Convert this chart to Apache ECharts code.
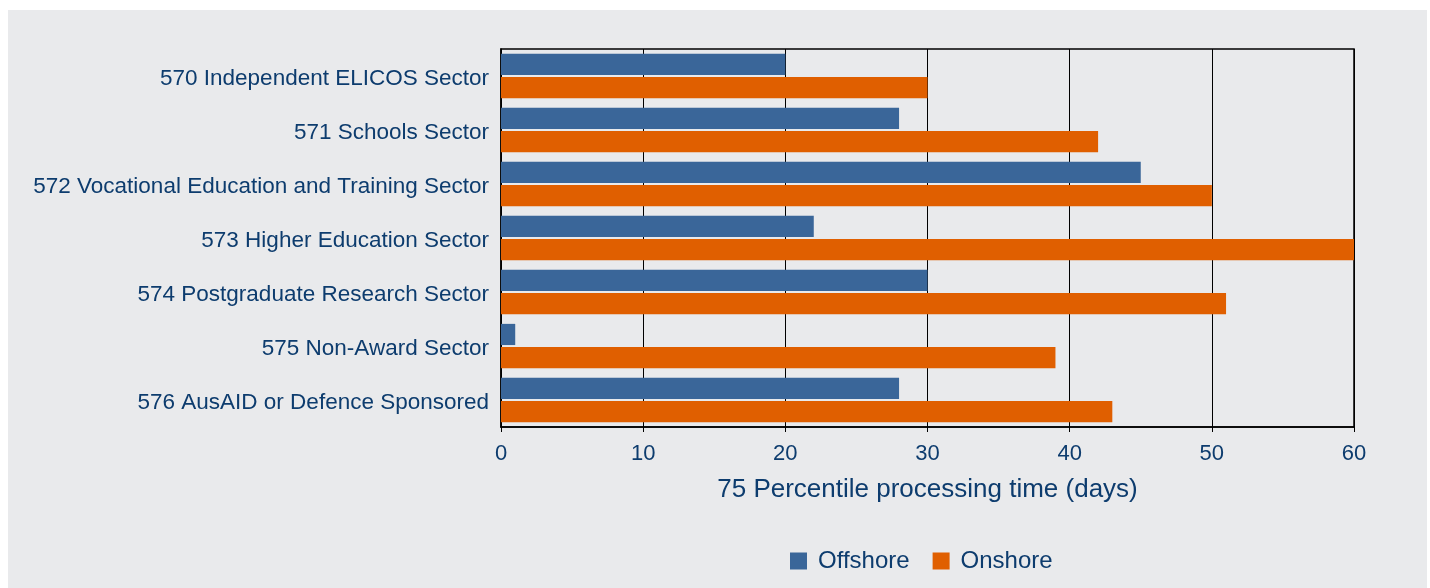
<!DOCTYPE html>
<html><head><meta charset="utf-8">
<script src="https://cdn.jsdelivr.net/npm/echarts@6/dist/echarts.min.js"></script>
<style>html,body{margin:0;padding:0;background:#fff;}#c{position:absolute;left:8px;top:10px;width:1419px;height:578px;background:#e9eaec;}</style>
</head><body><div id="c"></div>
<script>
const categories = ["570 Independent ELICOS Sector","571 Schools Sector","572 Vocational Education and Training Sector","573 Higher Education Sector","574 Postgraduate Research Sector","575 Non-Award Sector","576 AusAID or Defence Sponsored"];
const offshore = [20, 28, 45, 22, 30, 1, 28];
const onshore = [30, 42, 50, 60, 51, 39, 43];
const xTicks = {min: 0, max: 60, interval: 10};
const txt = '#0d3c6e';
const chart = echarts.init(document.getElementById('c'), null, {renderer: 'canvas'});
chart.setOption({
  backgroundColor: '#e9eaec',
  animation: false,
  textStyle: {fontFamily: 'Liberation Sans, Arial, sans-serif'},
  grid: {left: 493, right: 73, top: 39, bottom: 161, containLabel: false, show: true, borderColor: '#000', borderWidth: 1.5},
  legend: {
    top: 534, left: 777, itemWidth: 17, itemHeight: 17, itemGap: 23,
    icon: 'rect',
    textStyle: {color: txt, fontSize: 24, fontFamily: 'Liberation Sans, Arial, sans-serif', padding: [0, 0, 0, 6]},
    data: ['Offshore', 'Onshore']
  },
  xAxis: {
    type: 'value', min: xTicks.min, max: xTicks.max, interval: xTicks.interval,
    name: '75 Percentile processing time (days)', nameLocation: 'middle', nameGap: 50,
    nameTextStyle: {color: txt, fontSize: 26},
    axisLine: {show: true, lineStyle: {color: '#000', width: 1.5}},
    axisTick: {show: true, length: 5, lineStyle: {color: '#000'}},
    axisLabel: {color: txt, fontSize: 22, margin: 16},
    splitLine: {show: true, lineStyle: {color: '#000', width: 1}}
  },
  yAxis: {
    type: 'category', data: categories, inverse: true,
    axisLine: {show: true, lineStyle: {color: '#000', width: 1.5}},
    axisTick: {show: false},
    axisLabel: {
      color: txt, fontSize: 22.5, margin: 12,
      formatter: '{a|{value}}',
      rich: {a: {color: txt, fontSize: 22.5, fontFamily: 'Liberation Sans, Arial, sans-serif', padding: [6, 0, 0, 0]}}
    }
  },
  series: [
    {name: 'Offshore', type: 'bar', data: offshore, itemStyle: {color: '#3a6699'}, barGap: '9%', barCategoryGap: '18%'},
    {name: 'Onshore', type: 'bar', data: onshore, itemStyle: {color: '#e05f00'}, barGap: '9%', barCategoryGap: '18%'}
  ]
});
</script></body></html>
